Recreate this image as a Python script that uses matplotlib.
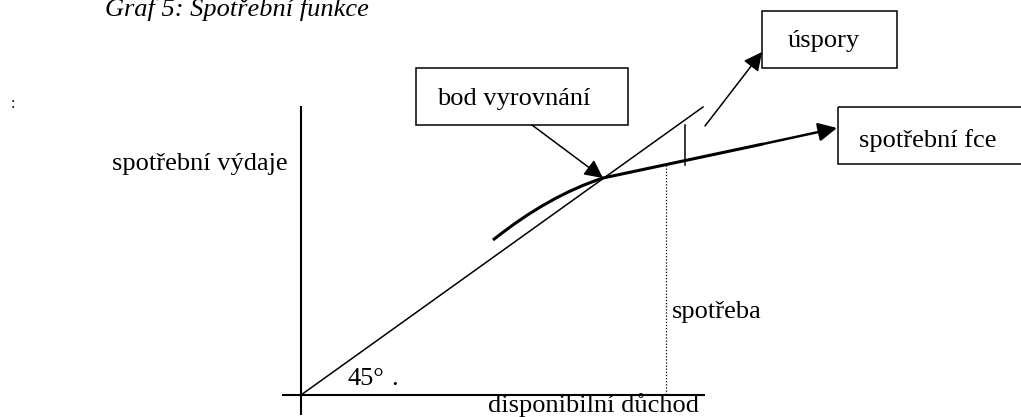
import matplotlib
matplotlib.use("Agg")
import matplotlib.pyplot as plt
import matplotlib.patches as mpatches
from matplotlib.path import Path

plt.rcParams["font.family"] = ["Liberation Serif", "DejaVu Serif"]

# diagram is drawn in pixel coordinates of the 1021x417 canvas (y grows downwards)
W, H = 1021, 417
FS = 19

ORIGIN = (301, 395)
Y_AXIS_TOP = 106
Y_AXIS_BOTTOM = 415
X_AXIS_LEFT = 282
X_AXIS_RIGHT = 705

LINE45_END = (703, 107)

# consumption function: curved part (start, control, break-even), then flatter
CURVE_X = [493, 548, 603]
CURVE_Y = [240, 196, 178]
STRAIGHT_END = (763, 144)
CONS_ARROW_TIP = (837, 128)

BREAK_EVEN = (CURVE_X[-1], CURVE_Y[-1])
SPOTREBA_X = 666
TICK_X = 685
TICK_Y = (125, 165)

BOXES = {
    "bod vyrovnání": (416, 68, 628, 125),
    "úspory": (762, 11, 897, 68),
    "spotřební fce": (838, 107, 1030, 164),
}
BOX_TEXT_POS = {
    "bod vyrovnání": (437, 105),
    "úspory": (788, 47),
    "spotřební fce": (859, 147),
}

POINTER_START = (532, 125)
SAVINGS_ARROW = ((705, 126), (762, 52))

fig = plt.figure(figsize=(W / 100, H / 100), dpi=100)
ax = fig.add_axes([0, 0, 1, 1])
ax.set_xlim(0, W)
ax.set_ylim(H, 0)
ax.axis("off")

ax.text(105, 16, "Graf 5: Spotřební funkce", fontsize=FS, style="italic", ha="left", va="baseline")
ax.text(13, 108, ":", fontsize=FS * 0.6, ha="center", va="baseline")

# axes
ax.plot([ORIGIN[0], ORIGIN[0]], [Y_AXIS_TOP, Y_AXIS_BOTTOM], color="black", lw=1.5, solid_capstyle="butt")
ax.plot([X_AXIS_LEFT, X_AXIS_RIGHT], [ORIGIN[1], ORIGIN[1]], color="black", lw=1.5, solid_capstyle="butt")

# 45 degree line
ax.plot([ORIGIN[0], LINE45_END[0]], [ORIGIN[1], LINE45_END[1]], color="black", lw=1.1)

# consumption function
verts = list(zip(CURVE_X, CURVE_Y)) + [STRAIGHT_END]
codes = [Path.MOVETO, Path.CURVE3, Path.CURVE3, Path.LINETO]
ax.add_patch(mpatches.PathPatch(Path(verts, codes), fill=False, edgecolor="black", lw=2.2,
                                capstyle="butt", joinstyle="round"))
ax.annotate("", xy=CONS_ARROW_TIP, xytext=STRAIGHT_END,
            arrowprops=dict(arrowstyle="-|>", color="black", lw=1.8, mutation_scale=28,
                            shrinkA=0, shrinkB=0))

# savings tick and consumption level line
ax.plot([TICK_X, TICK_X], TICK_Y, color="black", lw=1.1)
cons_y_at = BREAK_EVEN[1] + (STRAIGHT_END[1] - BREAK_EVEN[1]) * (SPOTREBA_X - BREAK_EVEN[0]) / (STRAIGHT_END[0] - BREAK_EVEN[0])
ax.plot([SPOTREBA_X, SPOTREBA_X], [cons_y_at, ORIGIN[1]], color="black", lw=0.9, linestyle=(0, (1, 1.5)))

# boxes with labels
for label, (x0, y0, x1, y1) in BOXES.items():
    ax.add_patch(mpatches.Rectangle((x0, y0), x1 - x0, y1 - y0, fill=False, edgecolor="black", lw=1.1))
    tx, ty = BOX_TEXT_POS[label]
    ax.text(tx, ty, label, fontsize=FS, ha="left", va="baseline")

# pointer to the break-even point
ax.annotate("", xy=BREAK_EVEN, xytext=POINTER_START,
            arrowprops=dict(arrowstyle="-|>", color="black", lw=1.1, mutation_scale=28,
                            shrinkA=0, shrinkB=0))
# savings arrow
ax.annotate("", xy=SAVINGS_ARROW[1], xytext=SAVINGS_ARROW[0],
            arrowprops=dict(arrowstyle="-|>", color="black", lw=1.1, mutation_scale=28,
                            shrinkA=0, shrinkB=0))

# axis labels
ax.text(112, 170, "spotřební výdaje", fontsize=FS, ha="left", va="baseline")
ax.text(488, 412, "disponibilní důchod", fontsize=FS, ha="left", va="baseline")
ax.text(347, 385, "45°", fontsize=FS, ha="left", va="baseline")
ax.text(391, 385, ".", fontsize=FS, ha="left", va="baseline")
ax.text(672, 318, "spotřeba", fontsize=FS, ha="left", va="baseline")

fig.savefig("out.png", dpi=100, facecolor="white")
